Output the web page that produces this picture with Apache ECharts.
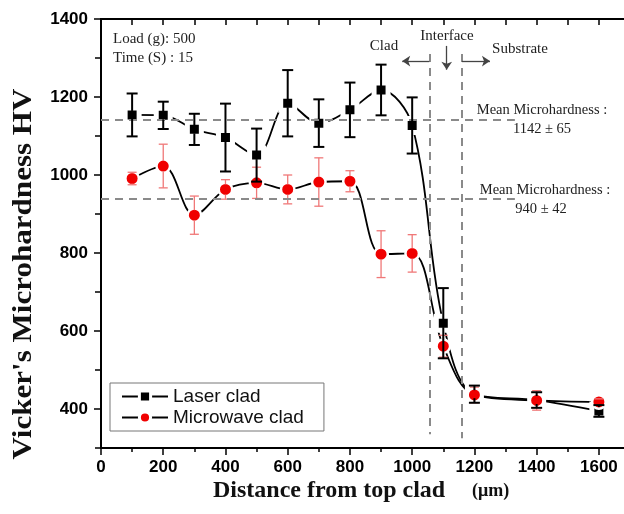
<!DOCTYPE html>
<html>
<head>
<meta charset="utf-8">
<script src="https://cdn.jsdelivr.net/npm/echarts@6/dist/echarts.min.js"></script>
<style>html,body{margin:0;background:#fff}#chart{width:624px;height:514px}</style>
</head>
<body>
<div id="chart"></div>
<script>
// distance from top clad (um)
const distance = [100, 200, 300, 400, 500, 600, 700, 800, 900, 1000, 1100, 1200, 1400, 1600];
// laser clad hardness and error
const laserMean = [1154, 1153, 1117, 1096, 1051, 1184, 1133, 1167, 1218, 1127, 620, 438, 423, 395];
const laserErr = [55, 35, 40, 87, 68, 85, 61, 70, 65, 72, 90, 22, 20, 15];
// microwave clad hardness and error
const microMean = [991, 1023, 897, 963, 980, 963, 982, 984, 797, 799, 561, 436, 422, 418];
const microErr = [16, 56, 49, 25, 40, 37, 62, 27, 60, 48, 28, 20, 25, 8];
// ticks
const xMajor = [0, 200, 400, 600, 800, 1000, 1200, 1400, 1600];
const xMinor = [100, 300, 500, 700, 900, 1100, 1300, 1500, 1700];
const yMajor = [400, 600, 800, 1000, 1200, 1400];
const yMinor = [300, 500, 700, 900, 1100, 1300];
// reference lines
const meanLevels = [1142, 940];
const zoneBounds = [1055, 1160];

const chart = echarts.init(document.getElementById('chart'));

const serif = '"Liberation Serif", "Times New Roman", serif';
const sans = '"Liberation Sans", Arial, sans-serif';

function errorBars(color, width, cap, gap) {
  return function (params, api) {
    const x = api.value(0);
    const lo = api.coord([x, api.value(1)]);
    const hi = api.coord([x, api.value(2)]);
    const mid = api.coord([x, api.value(3)]);
    const style = { stroke: color, lineWidth: width };
    const kids = [
      { type: 'line', shape: { x1: hi[0] - cap, y1: hi[1], x2: hi[0] + cap, y2: hi[1] }, style: style },
      { type: 'line', shape: { x1: lo[0] - cap, y1: lo[1], x2: lo[0] + cap, y2: lo[1] }, style: style }
    ];
    if (hi[1] < mid[1] - gap) {
      kids.push({ type: 'line', shape: { x1: hi[0], y1: hi[1], x2: hi[0], y2: mid[1] - gap }, style: style });
    }
    if (lo[1] > mid[1] + gap) {
      kids.push({ type: 'line', shape: { x1: lo[0], y1: mid[1] + gap, x2: lo[0], y2: lo[1] }, style: style });
    }
    return { type: 'group', children: kids };
  };
}

const guideStyle = { color: '#8a8a8a', type: [8, 6], width: 2 };
const arrowStyle = { color: '#444', type: 'solid', width: 1.3 };

const guides = [];
meanLevels.forEach(v => guides.push([{ coord: [0, v] }, { coord: [1330, v] }]));
guides.push([{ coord: [zoneBounds[0], 1310] }, { coord: [zoneBounds[0], 335] }]);
guides.push([{ coord: [zoneBounds[1], 1310] }, { coord: [zoneBounds[1], 325] }]);

const arrows = [
  [{ coord: [zoneBounds[0], 1292] }, { coord: [968, 1292] }],
  [{ coord: [zoneBounds[1], 1292] }, { coord: [1250, 1292] }],
  [{ coord: [1111, 1331] }, { coord: [1111, 1270] }]
];

function axisLineStyle() {
  return { show: true, lineStyle: { color: '#000', width: 2 } };
}
const plain = v => String(v);

const option = {
  animation: false,
  backgroundColor: '#fff',
  grid: { left: 101, width: 529, top: 19, bottom: 66, outerBoundsMode: 'none', containLabel: false },
  xAxis: [
    {
      type: 'value', min: 0, max: 1700, interval: 100, position: 'bottom',
      axisLine: axisLineStyle(),
      axisTick: { customValues: xMajor, length: 7, lineStyle: { color: '#000', width: 1.5 } },
      axisLabel: { customValues: xMajor, formatter: plain, margin: 11, color: '#000', fontFamily: sans, fontWeight: 'bold', fontSize: 17 },
      splitLine: { show: false }
    },
    {
      type: 'value', min: 0, max: 1700, interval: 100, position: 'bottom',
      axisLine: axisLineStyle(),
      axisTick: { customValues: xMinor, length: 4, lineStyle: { color: '#000', width: 1.5 } },
      axisLabel: { show: false },
      splitLine: { show: false }
    },
    {
      type: 'value', min: 0, max: 1700, interval: 100, position: 'top',
      axisLine: axisLineStyle(),
      axisTick: { inside: true, length: 6, lineStyle: { color: '#000', width: 1.5 } },
      axisLabel: { show: false },
      splitLine: { show: false }
    }
  ],
  yAxis: [
    {
      type: 'value', min: 300, max: 1400, interval: 100, position: 'left',
      axisLine: axisLineStyle(),
      axisTick: { customValues: yMajor, length: 7, lineStyle: { color: '#000', width: 1.5 } },
      axisLabel: { customValues: yMajor, formatter: plain, margin: 13, color: '#000', fontFamily: sans, fontWeight: 'bold', fontSize: 17 },
      splitLine: { show: false }
    },
    {
      type: 'value', min: 300, max: 1400, interval: 100, position: 'left',
      axisLine: axisLineStyle(),
      axisTick: { customValues: yMinor, length: 4, lineStyle: { color: '#000', width: 1.5 } },
      axisLabel: { show: false },
      splitLine: { show: false }
    },
    {
      type: 'value', min: 300, max: 1400, interval: 100, position: 'right',
      axisLine: axisLineStyle(),
      axisTick: { inside: true, length: 6, lineStyle: { color: '#000', width: 1.5 } },
      axisLabel: { show: false },
      splitLine: { show: false }
    }
  ],
  legend: {
    data: ['Laser clad', 'Microwave clad'],
    orient: 'vertical', left: 110, top: 383,
    padding: [4, 20, 4, 11], itemGap: 2, itemWidth: 46, itemHeight: 14,
    borderColor: '#777', borderWidth: 1, borderRadius: 0,
    itemStyle: { borderWidth: 3 },
    textStyle: { fontFamily: sans, fontSize: 19, color: '#111' }
  },
  graphic: [
    { type: 'text', x: 113, y: 39, style: { text: 'Load (g): 500', font: '15px ' + serif, fill: '#222', textVerticalAlign: 'middle' } },
    { type: 'text', x: 113, y: 58, style: { text: 'Time (S) : 15', font: '15px ' + serif, fill: '#222', textVerticalAlign: 'middle' } },
    { type: 'text', x: 384, y: 46, style: { text: 'Clad', font: '15px ' + serif, fill: '#222', textAlign: 'center', textVerticalAlign: 'middle' } },
    { type: 'text', x: 447, y: 36, style: { text: 'Interface', font: '15px ' + serif, fill: '#222', textAlign: 'center', textVerticalAlign: 'middle' } },
    { type: 'text', x: 520, y: 49, style: { text: 'Substrate', font: '15px ' + serif, fill: '#222', textAlign: 'center', textVerticalAlign: 'middle' } },
    { type: 'text', x: 542, y: 110, style: { text: 'Mean Microhardness :', font: '14.5px ' + serif, fill: '#222', textAlign: 'center', textVerticalAlign: 'middle' } },
    { type: 'text', x: 542, y: 129, style: { text: '1142 \u00b1 65', font: '14.5px ' + serif, fill: '#222', textAlign: 'center', textVerticalAlign: 'middle' } },
    { type: 'text', x: 545, y: 190, style: { text: 'Mean Microhardness :', font: '14.5px ' + serif, fill: '#222', textAlign: 'center', textVerticalAlign: 'middle' } },
    { type: 'text', x: 541, y: 209, style: { text: '940 \u00b1 42', font: '14.5px ' + serif, fill: '#222', textAlign: 'center', textVerticalAlign: 'middle' } },
    { type: 'text', x: 213, y: 491, style: { text: 'Distance from top clad', font: 'bold 24px ' + serif, fill: '#111', textVerticalAlign: 'middle' } },
    { type: 'text', x: 472, y: 491, style: { text: '(\u03bcm)', font: 'bold 18px ' + serif, fill: '#111', textVerticalAlign: 'middle' } },
    { type: 'text', x: 24, y: 274, rotation: Math.PI / 2, scaleX: 1.15, style: { text: "Vicker's Microhardness HV", font: 'bold 27px ' + serif, fill: '#111', textAlign: 'center', textVerticalAlign: 'middle' } }
  ],
  series: [
    {
      name: 'guides', type: 'line', data: [], z: 1, silent: true,
      markLine: { silent: true, symbol: 'none', label: { show: false }, lineStyle: guideStyle, data: guides }
    },
    {
      name: 'arrows', type: 'line', data: [], z: 1, silent: true,
      markLine: { silent: true, symbol: ['none', 'arrow'], symbolSize: 8, label: { show: false }, lineStyle: arrowStyle, data: arrows }
    },
    {
      name: 'Laser clad', type: 'line', z: 3,
      data: distance.map((d, i) => [d, laserMean[i]]),
      smooth: 0.35, symbol: 'rect', symbolSize: 14,
      lineStyle: { color: '#000', width: 1.8 },
      itemStyle: { color: '#000', borderColor: '#fff', borderWidth: 5 }
    },
    {
      name: 'Microwave clad', type: 'line', z: 3,
      data: distance.map((d, i) => [d, microMean[i]]),
      smooth: 0.35, symbol: 'circle', symbolSize: 13.5,
      lineStyle: { color: '#000', width: 1.8 },
      itemStyle: { color: '#f00000', borderColor: '#fff', borderWidth: 2.5 }
    },
    {
      name: 'microwave error', type: 'custom', z: 4, clip: false,
      renderItem: errorBars('#f07878', 1.3, 4.5, 5),
      encode: { x: 0, y: [1, 2] },
      data: distance.map((d, i) => [d, microMean[i] - microErr[i], microMean[i] + microErr[i], microMean[i]])
    },
    {
      name: 'laser error', type: 'custom', z: 5, clip: false,
      renderItem: errorBars('#000', 2, 5.5, 4),
      encode: { x: 0, y: [1, 2] },
      data: distance.map((d, i) => [d, laserMean[i] - laserErr[i], laserMean[i] + laserErr[i], laserMean[i]])
    }
  ]
};

chart.setOption(option);
</script>
</body>
</html>
